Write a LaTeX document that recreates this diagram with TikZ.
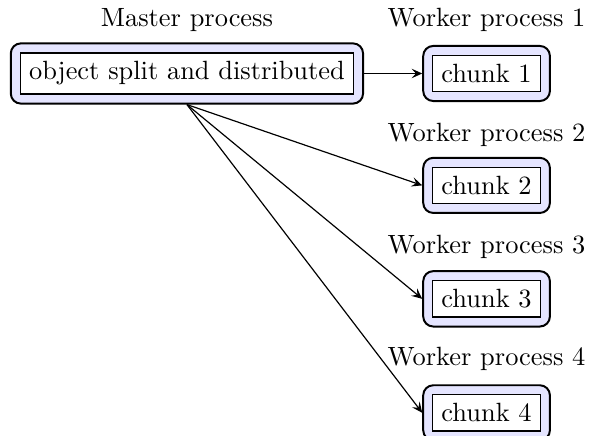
\documentclass[tikz,border=0pt]{standalone}
\usetikzlibrary{fit,backgrounds,arrows.meta}
\tikzset{
  inbox/.style={draw, fill=white, rectangle, inner sep=0.3333em, line width=0.55pt},
  outbox/.style={draw, fill=blue!10, rounded corners=3.8pt, inner sep=3.3pt, line width=0.75pt},
  caption/.style={inner sep=0pt},
  conn/.style={-{Stealth[length=4pt,width=3.6pt,inset=1.6pt]}, line width=0.45pt}
}
\begin{document}
\begin{tikzpicture}[x=0.97pt,y=0.97pt]
\useasboundingbox (0,0) rectangle (230,-170);
\node[inbox] (m) at (73,-28.7) {object split and distributed};
\node[inbox] (c1) at (190,-28.7) {chunk 1};
\node[inbox] (c2) at (190,-72.4) {chunk 2};
\node[inbox] (c3) at (190,-116.7) {chunk 3};
\node[inbox] (c4) at (190,-161.2) {chunk 4};
\begin{scope}[on background layer]
  \node[outbox, fit=(m)] (M) {};
  \node[outbox, fit=(c1)] (C1) {};
  \node[outbox, fit=(c2)] (C2) {};
  \node[outbox, fit=(c3)] (C3) {};
  \node[outbox, fit=(c4)] (C4) {};
\end{scope}
\node[caption] (lm) at (73,-7.8) {Master process};
\node[caption] (l1) at (190,-7.8) {Worker process 1};
\node[caption] (l2) at (190,-52.7) {Worker process 2};
\node[caption] (l3) at (190,-96.5) {Worker process 3};
\node[caption] (l4) at (190,-140.2) {Worker process 4};
\draw[conn] (M.east) -- (C1.west);
\draw[conn] (M.south) -- (C2.west);
\draw[conn] (M.south) -- (C3.west);
\draw[conn] (M.south) -- (C4.west);
\end{tikzpicture}
\end{document}
